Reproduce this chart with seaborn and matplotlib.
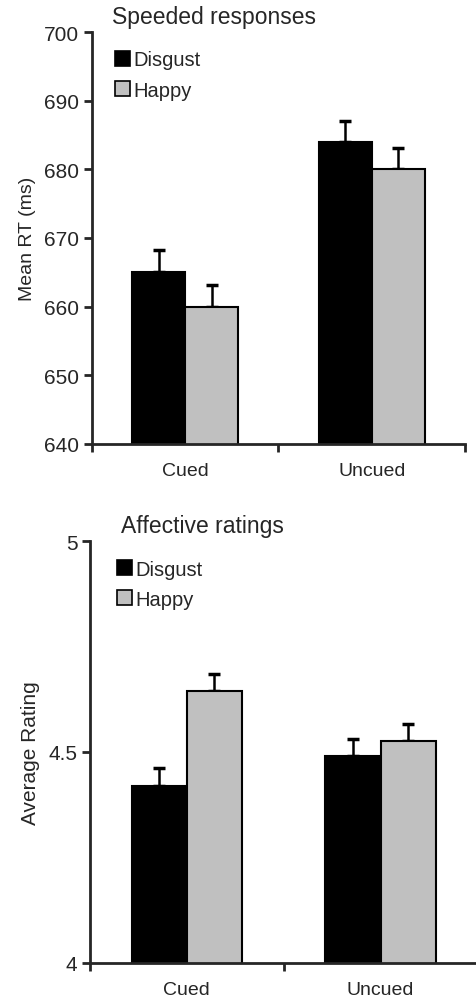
import pandas as pd
import matplotlib
matplotlib.use('Agg')
import matplotlib.pyplot as plt
from matplotlib.patches import Patch
import seaborn as sns

# data
conditions = ['Cued', 'Uncued']
emotions = ['Disgust', 'Happy']
rt_disgust = [665, 684]
rt_happy = [660, 680]
rt_err_disgust = [3.2, 3.1]
rt_err_happy = [3.1, 3.1]
rating_disgust = [4.42, 4.49]
rating_happy = [4.645, 4.525]
rating_err_disgust = [0.042, 0.041]
rating_err_happy = [0.041, 0.041]

sns.set_style('ticks')
plt.rcParams['font.family'] = ['Liberation Sans', 'DejaVu Sans']

colors = {'Disgust': 'black', 'Happy': '#c0c0c0'}


def make_df(dis, hap, err_d, err_h):
    return pd.DataFrame({
        'condition': conditions * 2,
        'emotion': ['Disgust'] * 2 + ['Happy'] * 2,
        'value': dis + hap,
        'err': err_d + err_h,
    })


def draw_panel(ax, df, ylim, yticks, yticklabels, ylabel, ylabel_size, title, title_x, leg_x):
    sns.barplot(data=df, x='condition', y='value', hue='emotion', order=conditions,
                hue_order=emotions, palette=colors, width=0.57, gap=0,
                edgecolor='black', linewidth=1.5, errorbar=None, ax=ax, zorder=2)
    # upward-only error bars, positioned from the drawn bars
    for cont, emo in zip(ax.containers, emotions):
        sub = df[df['emotion'] == emo].set_index('condition').loc[conditions]
        xs = [p.get_x() + p.get_width() / 2 for p in cont]
        ax.errorbar(xs, sub['value'], yerr=[[0] * len(xs), sub['err']], fmt='none',
                    ecolor='black', elinewidth=1.8, capsize=4.5, capthick=2.5, zorder=1)
    ax.set_ylim(*ylim)
    ax.set_xlim(-0.5, 1.5)
    ax.set_yticks(yticks)
    ax.set_yticklabels(yticklabels, fontsize=15)
    ax.set_xticks([0, 1])
    ax.set_xticklabels(conditions, fontsize=14)
    ax.tick_params(axis='x', which='major', length=0, pad=13)
    ax.set_xticks([-0.5, 0.5, 1.5], minor=True)
    ax.tick_params(axis='x', which='minor', length=6, width=2, direction='out')
    ax.tick_params(axis='y', length=6, width=2, direction='out', pad=3)
    ax.set_xlabel('')
    ax.set_ylabel(ylabel, fontsize=ylabel_size, labelpad=6)
    sns.despine(ax=ax)
    for s in ['left', 'bottom']:
        ax.spines[s].set_linewidth(2)
        ax.spines[s].set_clip_on(False)
        ax.spines[s].set_zorder(3)
    ax.legend(handles=[Patch(facecolor=colors[e], edgecolor='black', linewidth=1.2, label=e)
                       for e in emotions],
              loc='upper left', bbox_to_anchor=(leg_x, 0.975), frameon=False,
              handlelength=0.75, handleheight=0.75, handletextpad=0.15,
              labelspacing=0.55, fontsize=14.5, borderaxespad=0)
    ax.text(title_x, 1.01, title, transform=ax.transAxes, fontsize=16.5, ha='left', va='bottom')


fig = plt.figure(figsize=(4.76, 10.04), dpi=100)
ax1 = fig.add_axes([0.193, 0.557, 0.784, 0.410])
ax2 = fig.add_axes([0.189, 0.040, 0.814, 0.420])

df_rt = make_df(rt_disgust, rt_happy, rt_err_disgust, rt_err_happy)
df_rating = make_df(rating_disgust, rating_happy, rating_err_disgust, rating_err_happy)

draw_panel(ax1, df_rt, (640, 700), [640, 650, 660, 670, 680, 690, 700],
           ['640', '650', '660', '670', '680', '690', '700'], 'Mean RT (ms)', 14,
           'Speeded responses', 0.055, 0.04)
draw_panel(ax2, df_rating, (4, 5), [4, 4.5, 5], ['4', '4.5', '5'], 'Average Rating', 15,
           'Affective ratings', 0.08, 0.05)

plt.savefig('out.png', dpi=100)
